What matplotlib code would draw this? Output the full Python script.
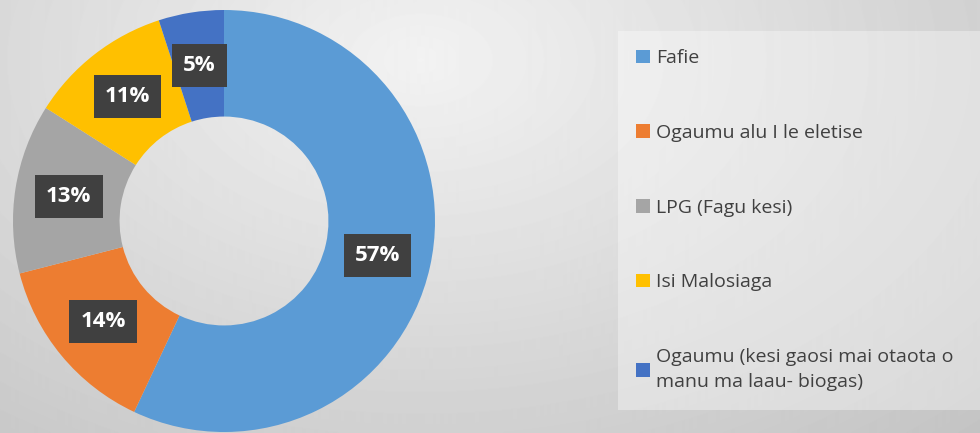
import numpy as np
import matplotlib.pyplot as plt
from matplotlib.patches import Patch

labels = ["Fafie", "Ogaumu alu I le eletise", "LPG (Fagu kesi)", "Isi Malosiaga",
          "Ogaumu (kesi gaosi mai otaota o\nmanu ma laau- biogas)"]
values = [57, 14, 13, 11, 5]
colors = ["#5B9BD5", "#ED7D31", "#A5A5A5", "#FFC000", "#4472C4"]

plt.rcParams['font.family'] = ['Open Sans', 'DejaVu Sans']

fig = plt.figure(figsize=(9.8, 4.33), dpi=100)

# background gradient
bg = fig.add_axes([0, 0, 1, 1])
yy, xx = np.mgrid[0:433, 0:980]
d = np.sqrt(((xx - 420) / 700.0) ** 2 + ((yy - 60) / 450.0) ** 2)
shade = np.clip(0.95 - 0.16 * d, 0.76, 0.95)
bg.imshow(shade, cmap='gray', vmin=0, vmax=1, aspect='auto', extent=[0, 980, 433, 0])
bg.axis('off')

# donut
ax = fig.add_axes([7.5 / 980, -4.5 / 433, 433 / 980, 1.0])
wedges, texts, autotexts = ax.pie(values, colors=colors, startangle=90, counterclock=False,
                                  radius=1.0, wedgeprops=dict(width=0.505, linewidth=0),
                                  autopct='%1.0f%%', pctdistance=0.745,
                                  textprops=dict(color='white', fontsize=16, fontweight='bold'))
for t in autotexts:
    t.set_bbox(dict(boxstyle='square,pad=0.5', facecolor='#404040', edgecolor='none'))
lim = 216.5 / 211
ax.set_xlim(-lim, lim)
ax.set_ylim(-lim, lim)
ax.set_aspect('equal')
ax.axis('off')

handles = [Patch(facecolor=c, edgecolor='none') for c in colors]
leg = fig.legend(handles, labels, loc='upper left',
                 bbox_to_anchor=(618 / 980, 1 - 35 / 433, 1 - 618 / 980, 0.01), mode='expand',
                 frameon=True, fancybox=False, fontsize=14, labelspacing=2.92,
                 handlelength=0.7, handleheight=0.7, handletextpad=0.3,
                 borderpad=0.95, borderaxespad=0)
leg.get_frame().set_facecolor('white')
leg.get_frame().set_alpha(0.35)
leg.get_frame().set_edgecolor('none')
for t in leg.get_texts():
    t.set_color('#404040')
leg.get_texts()[-1].set_linespacing(1.5)

plt.savefig("out.png", dpi=100)
